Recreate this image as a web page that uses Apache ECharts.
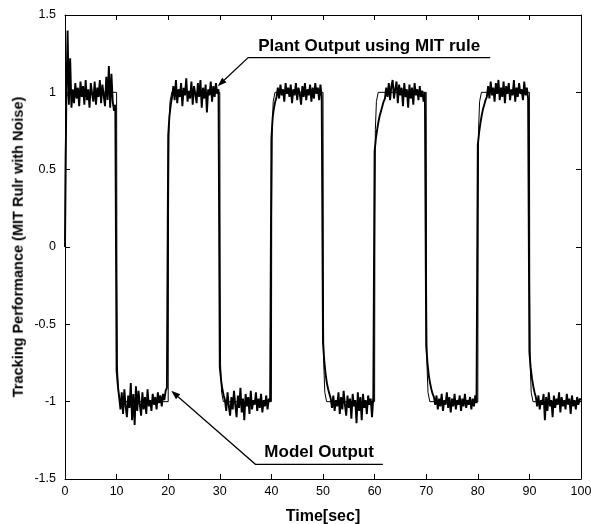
<!DOCTYPE html>
<html>
<head>
<meta charset="utf-8">
<script src="https://cdn.jsdelivr.net/npm/echarts@6/dist/echarts.min.js"></script>
<style>
html,body{margin:0;padding:0;background:#fff;}
#wrap{position:relative;width:591px;height:524px;}
#chart{position:absolute;left:0;top:0;width:591px;height:524px;}
#ytitle{position:absolute;left:18px;top:247px;transform:translate(-50%,-50%) rotate(-90deg);
  white-space:nowrap;font-weight:bold;font-size:14.5px;font-family:"Liberation Sans",Arial,sans-serif;color:#000;z-index:5;line-height:1;}
</style>
</head>
<body>
<div id="wrap"><div id="chart"></div><div id="ytitle"></div></div>
<script>
// ---- data ----
const sampleStep = 0.25;      // seconds between plant samples
const segmentLength = 10;     // seconds per half period
const plantSeg0 = [0.00,0.95,1.40,0.92,1.22,0.90,1.02,0.93,1.06,0.96,1.03,0.91,1.07,0.97,1.04,0.92,1.08,0.95,1.02,0.90,1.06,0.99,0.94,1.07,0.92,1.03,0.97,1.08,0.93,1.05,0.98,0.91,1.10,0.95,1.17,0.90,1.12,0.94,0.88,0.92];
const plantSeg1 = [-0.80,-0.90,-0.97,-1.05,-0.94,-1.08,-0.92,-1.03,-1.10,-0.96,-1.04,-0.88,-1.12,-0.95,-1.15,-0.90,-1.06,-0.93,-1.02,-1.09,-0.94,-1.05,-0.97,-1.08,-0.92,-1.03,-0.99,-1.06,-0.95,-1.02,-0.97,-1.05,-0.94,-1.01,-0.96,-1.03,-0.95,-0.99,-0.93,-0.91];
const plantSeg2 = [0.72,0.85,0.92,0.97,1.04,0.95,1.08,0.93,1.02,0.97,1.06,0.91,1.03,0.98,1.09,0.94,1.01,0.96,1.07,0.92,1.04,0.99,0.93,1.06,0.97,1.08,0.90,1.03,0.96,1.05,0.87,1.02,0.98,1.07,0.94,1.04,0.97,1.06,0.99,1.02];
const plantSeg3 = [-0.78,-0.86,-0.92,-0.96,-0.99,-1.06,-0.94,-1.03,-1.09,-0.97,-1.05,-0.93,-1.02,-1.10,-0.96,-1.04,-0.91,-1.07,-0.98,-1.12,-0.95,-1.03,-0.97,-1.08,-0.93,-1.05,-0.99,-1.02,-0.94,-1.06,-0.98,-1.04,-0.95,-1.07,-0.99,-1.03,-0.96,-1.05,-0.98,-1.00];
const plantSeg4 = [0.70,0.84,0.90,0.94,0.97,1.03,0.96,1.05,0.98,1.02,0.94,1.06,0.99,1.03,0.97,1.05,0.93,1.02,0.98,1.06,0.95,1.03,0.99,0.92,1.04,0.97,1.06,0.95,1.02,0.98,1.05,0.94,1.03,0.96,1.06,0.99,1.03,0.95,1.05,0.97];
const plantSeg5 = [-0.62,-0.74,-0.82,-0.88,-0.92,-0.95,-0.98,-1.04,-0.96,-1.06,-0.99,-1.03,-0.94,-1.08,-0.97,-1.05,-0.93,-1.02,-1.09,-0.96,-1.04,-0.98,-1.11,-0.95,-1.03,-0.99,-1.14,-0.94,-1.06,-0.97,-1.12,-0.95,-1.04,-0.99,-1.08,-0.96,-1.02,-0.98,-1.10,-0.97];
const plantSeg6 = [0.62,0.70,0.76,0.81,0.85,0.88,0.91,0.94,0.96,1.03,0.97,1.06,0.95,1.04,1.08,0.96,1.02,1.07,0.93,1.05,0.98,1.03,0.91,1.06,0.97,1.02,0.90,1.05,0.96,1.03,0.92,1.06,0.98,1.02,0.95,1.04,0.97,1.01,0.94,1.00];
const plantSeg7 = [-0.64,-0.75,-0.83,-0.88,-0.92,-0.95,-0.97,-1.02,-0.96,-1.05,-0.98,-1.03,-0.95,-1.06,-0.99,-1.02,-0.94,-1.04,-0.97,-1.07,-0.98,-1.03,-0.95,-1.05,-0.99,-1.02,-0.96,-1.06,-0.98,-1.03,-0.95,-1.04,-0.99,-1.02,-0.97,-1.05,-0.98,-1.03,-0.96,-1.01];
const plantSeg8 = [0.66,0.74,0.80,0.85,0.89,0.92,0.95,0.97,1.04,0.96,1.07,0.98,1.03,0.94,1.06,0.99,1.08,0.95,1.03,0.97,1.07,0.93,1.04,0.99,1.06,0.95,1.02,0.98,1.08,0.94,1.03,0.97,1.06,0.99,1.02,0.95,1.07,0.98,1.03,0.96];
const plantSeg9 = [-0.68,-0.78,-0.85,-0.90,-0.94,-0.97,-1.03,-0.96,-1.05,-0.99,-1.02,-0.95,-1.12,-0.97,-1.06,-0.94,-1.03,-0.99,-1.10,-0.96,-1.04,-0.98,-1.02,-0.94,-1.07,-0.97,-1.03,-0.99,-1.05,-0.95,-1.02,-0.98,-1.08,-0.96,-1.03,-0.99,-1.05,-0.97,-1.02,-0.98,-0.99];
const plantSegments = [plantSeg0,plantSeg1,plantSeg2,plantSeg3,plantSeg4,plantSeg5,plantSeg6,plantSeg7,plantSeg8,plantSeg9];

const modelTime  = [0,0.06,0.15,0.35,0.7, 10,10.06,10.15,10.35,10.7, 20,20.06,20.15,20.35,20.7, 30,30.06,30.15,30.35,30.7, 40,40.06,40.15,40.35,40.7, 50,50.06,50.15,50.35,50.7, 60,60.06,60.15,60.35,60.7, 70,70.06,70.15,70.35,70.7, 80,80.06,80.15,80.35,80.7, 90,90.06,90.15,90.35,90.7, 100];
const modelValue = [0,0.6,0.88,0.97,1, 1,-0.2,-0.76,-0.94,-1, -1,0.2,0.76,0.94,1, 1,-0.2,-0.76,-0.94,-1, -1,0.2,0.76,0.94,1, 1,-0.2,-0.76,-0.94,-1, -1,0.2,0.76,0.94,1, 1,-0.2,-0.76,-0.94,-1, -1,0.2,0.76,0.94,1, 1,-0.2,-0.76,-0.94,-1, -1];

const xTitle = 'Time[sec]';
const yTitle = 'Tracking Performance (MIT Rulr with Noise)';
const plantLabel = 'Plant Output using MIT rule';
const modelLabel = 'Model Output';
// annotation anchors in data coordinates: [arrow tip, underline start, underline end]
const plantAnno = [[29.6, 1.04], [35.5, 1.225], [82.4, 1.225]];
const modelAnno = [[20.6, -0.93], [36.9, -1.405], [61.6, -1.405]];

// ---- build ----
const plantData = [];
plantSegments.forEach((seg, k) => {
  seg.forEach((v, i) => plantData.push([k * segmentLength + i * sampleStep, v]));
});
const modelData = modelTime.map((t, i) => [t, modelValue[i]]);

const FONT = '"Liberation Sans", Arial, sans-serif';
const chart = echarts.init(document.getElementById('chart'), null, {renderer: 'canvas'});

const axisCommon = {
  axisLine: {show: true, onZero: false, lineStyle: {color: '#000', width: 1}},
  axisTick: {show: true, inside: true, length: 5, lineStyle: {color: '#000', width: 1}},
  splitLine: {show: false}
};

chart.setOption({
  animation: false,
  backgroundColor: '#fff',
  grid: {left: 65, right: 10, top: 15, bottom: 45, containLabel: false, outerBoundsMode: 'none'},
  xAxis: [
    Object.assign({
      type: 'value', min: 0, max: 100, interval: 10, position: 'bottom',
      axisLabel: {color: '#000', fontSize: 12.5, margin: 6, fontFamily: FONT},
      name: xTitle, nameLocation: 'middle', nameGap: 30,
      nameTextStyle: {color: '#000', fontWeight: 'bold', fontSize: 16, fontFamily: FONT}
    }, axisCommon),
    Object.assign({
      type: 'value', min: 0, max: 100, interval: 10, position: 'top',
      axisLabel: {show: false}
    }, axisCommon)
  ],
  yAxis: [
    Object.assign({
      type: 'value', min: -1.5, max: 1.5, interval: 0.5, position: 'left',
      axisLabel: {color: '#000', fontSize: 12.5, margin: 9, fontFamily: FONT}
    }, axisCommon),
    Object.assign({
      type: 'value', min: -1.5, max: 1.5, interval: 0.5, position: 'right',
      axisLabel: {show: false}
    }, axisCommon)
  ],
  series: [
    {
      name: 'Plant', type: 'line', data: plantData, showSymbol: false, symbol: 'none',
      lineStyle: {color: '#000', width: 1.9}, z: 2
    },
    {
      name: 'Model', type: 'line', data: modelData, showSymbol: false, symbol: 'none',
      lineStyle: {color: '#000', width: 1}, z: 3
    }
  ]
});

function px(p) { return chart.convertToPixel({xAxisIndex: 0, yAxisIndex: 0}, p); }
function annotation(anchors, label, textDy) {
  const tip = px(anchors[0]), a = px(anchors[1]), b = px(anchors[2]);
  const ang = Math.atan2(tip[1] - a[1], tip[0] - a[0]);
  const L = 9, W = 3.2;
  const bx = tip[0] - L * Math.cos(ang), by = tip[1] - L * Math.sin(ang);
  const nx = -Math.sin(ang) * W, ny = Math.cos(ang) * W;
  return [
    {type: 'polyline', shape: {points: [b, a, [bx, by]]}, style: {stroke: '#000', lineWidth: 1.2, fill: null}, z: 10},
    {type: 'polygon', shape: {points: [tip, [bx + nx, by + ny], [bx - nx, by - ny]]}, style: {fill: '#000'}, z: 10},
    {type: 'text', x: (a[0] + b[0]) / 2, y: a[1] + textDy,
     style: {text: label, fill: '#000', font: 'bold 17px ' + FONT, align: 'center', verticalAlign: 'middle', width: 400, overflow: 'none'}, z: 10}
  ];
}
chart.setOption({
  graphic: annotation(plantAnno, plantLabel, -11).concat(annotation(modelAnno, modelLabel, -12))
});

// y-axis title as rotated real text
const yMid = (px([0, 1.5])[1] + px([0, -1.5])[1]) / 2;
const yt = document.getElementById('ytitle');
yt.textContent = yTitle;
yt.style.top = yMid + 'px';
</script>
</body>
</html>
